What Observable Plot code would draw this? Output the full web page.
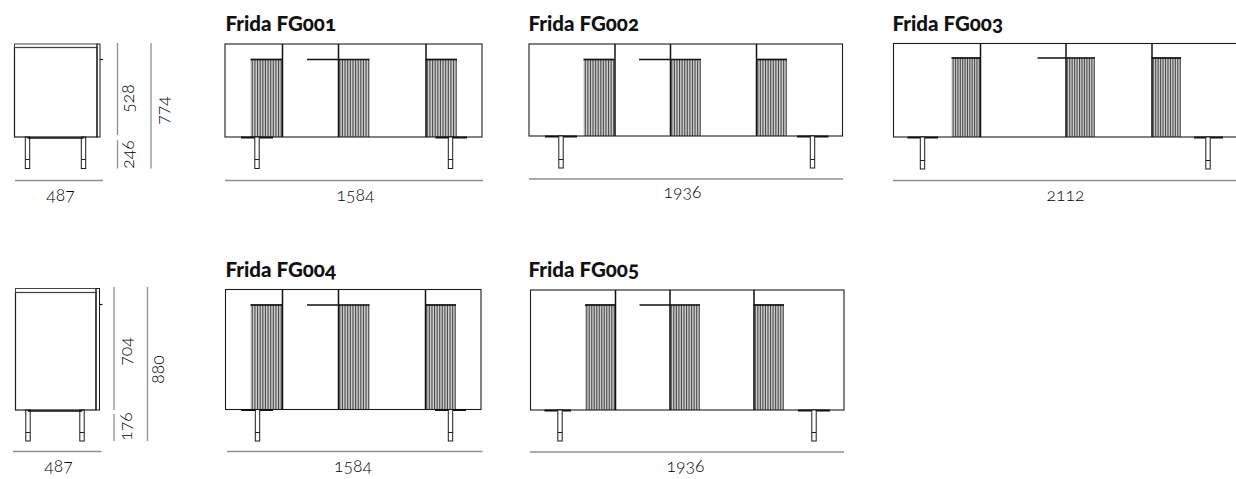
<!DOCTYPE html>
<html><head><meta charset="utf-8">
<style>html,body{margin:0;padding:0;background:#fff}svg{display:block;font-variant-numeric:oldstyle-nums;font-feature-settings:"onum" 1}</style>
<script src="https://cdn.jsdelivr.net/npm/d3@7"></script>
<script src="https://cdn.jsdelivr.net/npm/@observablehq/plot@0.6"></script>
</head><body><div id="chart"></div>
<script>
// Front elevations (one entry per model)
const models = ["Frida FG001","Frida FG002","Frida FG003","Frida FG004","Frida FG005"];
const frontWidths = ["1584","1936","2112","1584","1936"];
const titleX = [225,528,892,225,528];
const titleY = [24,24,24,270,270];
const boxLeft = [225,529,893.5,225.5,530.5];
const boxRight = [482,842.5,1240,481,844];
const boxTop = [44,44,43.5,289.5,290];
const boxBottom = [137,136,137,409.5,410];
const panelTop = [59,59,57.5,304.5,304.5];
const hingeA = [282,614.5,980,282,615];
const hingeB = [338,670,1065.5,338,669.5];
const hingeC = [425.5,756,1151.5,425,753.5];
const panelLeftA = [250.5,583.5,951.5,250.5,585];
const panelRightB = [369.5,701,1095,369.5,700];
const panelRightC = [457,787,1181,456,784];
const shelfStart = [307,639,1037.5,307,639.5];
const footA = [[241,273],[545,577],[907.5,938],[241,273],[544.5,571]];
const footB = [[435.5,467],[797,828.5],[1194,1223],[435,466],[798,830]];
const legA = [257,561,922.5,257.5,560];
const legB = [450.5,812.5,1208,450.5,814];
const legBottom = [168.5,168,169,441,441];
const legSplit = [159,159,160,432,432];
const dimY = [180,178.5,180,451,451.5];
const dimLeft = [225,529,893,227,530];
const dimRight = [483,843,1236,482.5,844];
const labelX = [355,682,1065,352.5,685];
const labelY = [194.5,192,195,466,466];
const fluteCount = 12;

// Side elevations
const sideDepth = ["487","487"];
const sideLeft = [14.5,15.5];
const sideRight = [97,96];
const slabRight = [100,99.5];
const sideTop = [44,288.5];
const sideLid = [47.5,292.5];
const sideBottom = [137,410];
const sideHandle = [59,304];
const sideLegs = [[27.5,83.5],[28,82]];
const sideLegBottom = [168.5,441];
const sideLegSplit = [159,432];
const sideDimY = [180,451];
const sideDimLeft = [15,13];
const sideDimRight = [103,101.5];
const sideLabelX = [60,58];
const sideLabelY = [194.5,466];
const heightParts = [["528","246"],["704","176"]];
const heightTotal = ["774","880"];
const partRuleX = [117,113.5];
const totalRuleX = [150.5,147];
const partRuleBreak = [[43,135,140,168.5],[287,410,414,441]];
const partLabelX = [128,126];
const totalLabelX = [163,158];
const partLabelY = [[98,154],[351,426]];
const totalLabelY = [110,369];

const ink = "#1c1c1c", dim = "#8f8f8f";
const I = models.map((_, i) => i), S = sideDepth.map((_, i) => i);
const panels = I.flatMap(i => [
  [panelLeftA[i], hingeA[i]], [hingeB[i], panelRightB[i]], [hingeC[i], panelRightC[i]]
].map(([a, b]) => ({a, b, top: panelTop[i], bottom: boxBottom[i]})));
const flutes = panels.flatMap(p => d3.range(fluteCount).map(k => ({
  x: p.a + (k + 0.5) * (p.b - p.a) / fluteCount, top: p.top, bottom: p.bottom
})));
const legs = [
  ...I.flatMap(i => [legA[i], legB[i]].map(x => ({x, y1: boxBottom[i], y2: legBottom[i], split: legSplit[i]}))),
  ...S.flatMap(i => sideLegs[i].map(x => ({x, y1: sideBottom[i], y2: sideLegBottom[i], split: sideLegSplit[i]})))
];
const textFont = "Lato";
const numSize = 17.5;
const numFill = "#000";

const chart = Plot.plot({
  width: 1236, height: 479, margin: 0,
  style: {background: "#fff", fontFamily: textFont},
  x: {domain: [0, 1236], range: [0, 1236], axis: null},
  y: {domain: [0, 479], range: [0, 479], axis: null},
  marks: [
    // fluted doors
    Plot.rect(panels, {x1: "a", x2: "b", y1: "top", y2: "bottom", fill: "#cbcbcb"}),
    Plot.ruleX(flutes, {x: "x", y1: "top", y2: "bottom", stroke: "#4d4d4d", strokeWidth: 1.1}),
    // carcass outline
    Plot.rect(I, {x1: i => boxLeft[i], x2: i => boxRight[i], y1: i => boxTop[i], y2: i => boxBottom[i], stroke: ink, strokeWidth: 1.1, fill: "none"}),
    // door edges
    Plot.ruleX(I.flatMap(i => [hingeA[i], hingeB[i], hingeC[i]].map(x => ({x, y1: boxTop[i], y2: boxBottom[i]}))), {x: "x", y1: "y1", y2: "y2", stroke: "#111", strokeWidth: 1.5}),
    // door top bars
    Plot.ruleY(I.flatMap(i => [
      {y: panelTop[i], x1: panelLeftA[i], x2: hingeA[i]},
      {y: panelTop[i], x1: shelfStart[i], x2: panelRightB[i]},
      {y: panelTop[i], x1: hingeC[i], x2: panelRightC[i]}
    ]), {y: "y", x1: "x1", x2: "x2", stroke: "#111", strokeWidth: 1.7}),
    // feet plates
    Plot.ruleY(I.flatMap(i => [footA[i], footB[i]].map(([x1, x2]) => ({y: boxBottom[i], x1, x2}))), {y: "y", x1: "x1", x2: "x2", stroke: "#111", strokeWidth: 2}),
    // legs
    Plot.rect(legs, {x1: d => d.x - 2.2, x2: d => d.x + 2.2, y1: "y1", y2: "y2", stroke: ink, strokeWidth: 1, fill: "#fff"}),
    Plot.ruleY(legs, {y: "split", x1: d => d.x - 2.2, x2: d => d.x + 2.2, stroke: ink, strokeWidth: 1}),
    // side elevations
    Plot.rect(S, {x1: i => sideLeft[i], x2: i => sideRight[i], y1: i => sideLid[i], y2: i => sideBottom[i], stroke: ink, strokeWidth: 1.2, fill: "none"}),
    Plot.rect(S, {x1: i => sideLeft[i], x2: i => sideRight[i], y1: i => sideTop[i], y2: i => sideLid[i], stroke: "#444", strokeWidth: 1, fill: "none"}),
    Plot.rect(S, {x1: i => sideRight[i], x2: i => slabRight[i], y1: i => sideTop[i], y2: i => sideBottom[i], stroke: ink, strokeWidth: 1, fill: "none"}),
    Plot.ruleY(S, {y: i => sideHandle[i], x1: i => slabRight[i], x2: i => slabRight[i] + 3, stroke: "#111", strokeWidth: 1.2}),
    Plot.ruleY(S, {y: i => sideBottom[i] + 0.5, x1: i => sideLegs[i][0], x2: i => sideLegs[i][1], stroke: "#111", strokeWidth: 1.4}),
    // dimension rules
    Plot.ruleY(I, {y: i => dimY[i], x1: i => dimLeft[i], x2: i => dimRight[i], stroke: dim, strokeWidth: 1.3}),
    Plot.ruleY(S, {y: i => sideDimY[i], x1: i => sideDimLeft[i], x2: i => sideDimRight[i], stroke: dim, strokeWidth: 1.3}),
    Plot.ruleX(S, {x: i => partRuleX[i], y1: i => partRuleBreak[i][0], y2: i => partRuleBreak[i][1], stroke: dim, strokeWidth: 1.3}),
    Plot.ruleX(S, {x: i => partRuleX[i], y1: i => partRuleBreak[i][2], y2: i => partRuleBreak[i][3], stroke: dim, strokeWidth: 1.3}),
    Plot.ruleX(S, {x: i => totalRuleX[i], y1: i => partRuleBreak[i][0], y2: i => partRuleBreak[i][3], stroke: dim, strokeWidth: 1.3}),
    // text
    Plot.text(I, {x: i => titleX[i], y: i => titleY[i], text: i => models[i], textAnchor: "start", fontSize: 20.5, fontWeight: 900, fill: "#111"}),
    Plot.text(I, {x: i => labelX[i], y: i => labelY[i], text: i => frontWidths[i], fontSize: numSize, fontWeight: 300, fill: numFill}),
    Plot.text(S, {x: i => sideLabelX[i], y: i => sideLabelY[i], text: i => sideDepth[i], fontSize: numSize, fontWeight: 300, fill: numFill}),
    Plot.text(S, {x: i => partLabelX[i], y: i => partLabelY[i][0], text: i => heightParts[i][0], rotate: -90, fontSize: numSize, fontWeight: 300, fill: numFill}),
    Plot.text(S, {x: i => partLabelX[i], y: i => partLabelY[i][1], text: i => heightParts[i][1], rotate: -90, fontSize: numSize, fontWeight: 300, fill: numFill}),
    Plot.text(S, {x: i => totalLabelX[i], y: i => totalLabelY[i], text: i => heightTotal[i], rotate: -90, fontSize: numSize, fontWeight: 300, fill: numFill})
  ]
});
document.getElementById("chart").append(chart);
</script></body></html>
